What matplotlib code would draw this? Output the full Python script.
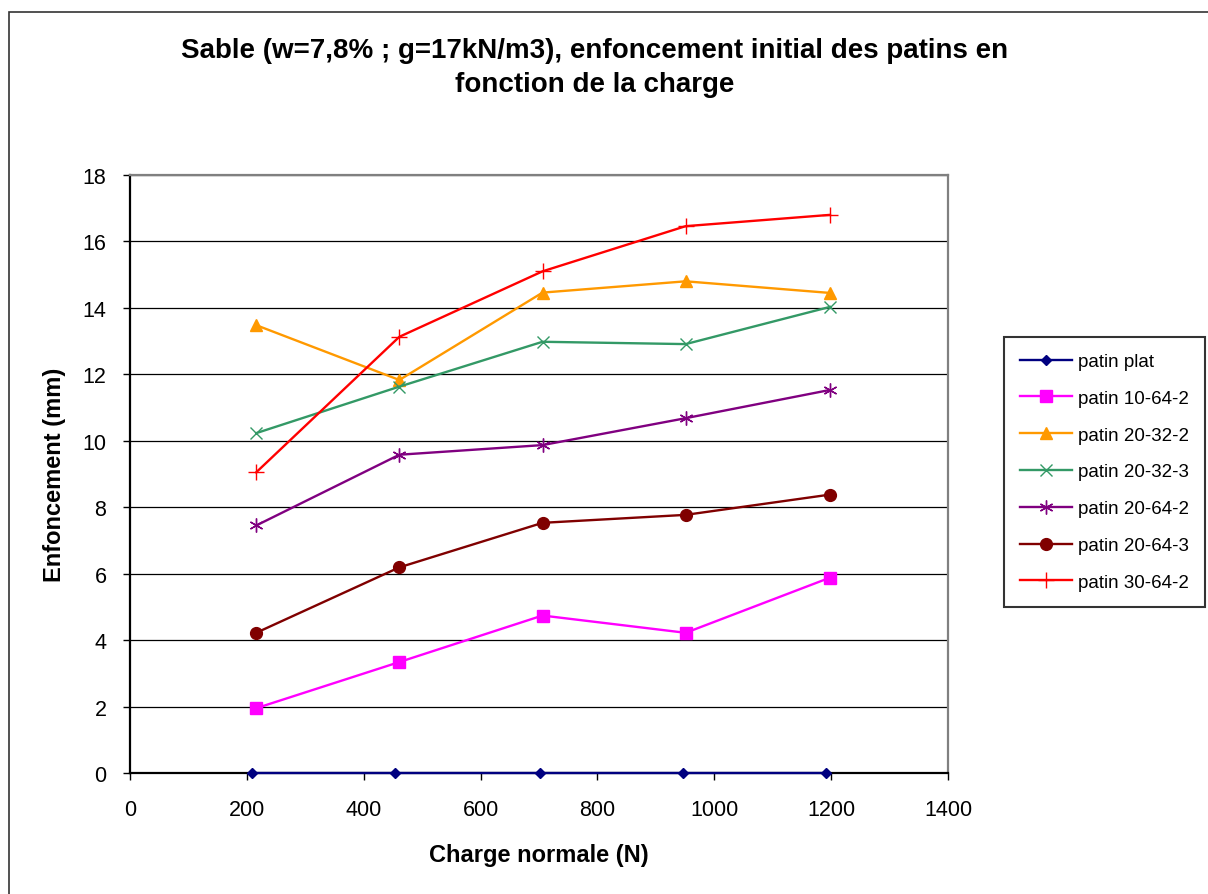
import matplotlib
matplotlib.use("Agg")
import matplotlib.pyplot as plt
from matplotlib.patches import Rectangle

plt.rcParams['font.family'] = ['Liberation Sans', 'DejaVu Sans']

title = "Sable (w=7,8% ; g=17kN/m3), enfoncement initial des patins en\nfonction de la charge"
xlabel = "Charge normale (N)"
ylabel = "Enfoncement (mm)"

x_plat = [208, 453, 701, 946, 1191]
x_load = [216, 461, 706, 951, 1198]

labels = ["patin plat", "patin 10-64-2", "patin 20-32-2", "patin 20-32-3",
          "patin 20-64-2", "patin 20-64-3", "patin 30-64-2"]
y_plat = [0, 0, 0, 0, 0]
y_10_64_2 = [1.95, 3.34, 4.74, 4.22, 5.88]
y_20_32_2 = [13.48, 11.83, 14.46, 14.80, 14.45]
y_20_32_3 = [10.23, 11.63, 12.98, 12.91, 14.03]
y_20_64_2 = [7.45, 9.58, 9.87, 10.68, 11.53]
y_20_64_3 = [4.22, 6.19, 7.53, 7.77, 8.38]
y_30_64_2 = [9.05, 13.13, 15.10, 16.46, 16.80]

xticks = [0, 200, 400, 600, 800, 1000, 1200, 1400]
yticks = [0, 2, 4, 6, 8, 10, 12, 14, 16, 18]

W, H = 1208, 895
fig = plt.figure(figsize=(W / 100, H / 100), dpi=100)
fig.patch.set_facecolor('white')

# outer chart frame
fig.patches.append(Rectangle((9 / W, -0.1), 1.2, (H - 13) / H + 0.1,
                             transform=fig.transFigure, fill=False,
                             edgecolor='#333333', linewidth=1.2))

ax = fig.add_axes([130 / W, (H - 774) / H, (948 - 130) / W, (774 - 176) / H])

series = [
    (x_plat, y_plat, '#000080', 'D', 5),
    (x_load, y_10_64_2, '#FF00FF', 's', 8.5),
    (x_load, y_20_32_2, '#FF9900', '^', 8.5),
    (x_load, y_20_32_3, '#339966', 'x', 8),
    (x_load, y_20_64_2, '#800080', (6, 2, 0), 10),
    (x_load, y_20_64_3, '#800000', 'o', 8.5),
    (x_load, y_30_64_2, '#FF0000', '+', 11),
]
for (xs, ys, c, m, ms), lab in zip(series, labels):
    ax.plot(xs, ys, color=c, marker=m, markersize=ms, linewidth=1.7,
            markeredgewidth=1.0, label=lab, clip_on=False, zorder=3)

ax.set_xlim(0, 1400)
ax.set_ylim(0, 18)
ax.set_xticks(xticks)
ax.set_yticks(yticks)
ax.tick_params(axis='both', labelsize=15.5, direction='out', length=5, width=1, colors='black')
ax.tick_params(axis='y', pad=12)
ax.tick_params(axis='x', pad=14)
ax.yaxis.grid(True, color='black', linewidth=0.9)
ax.set_axisbelow(True)
for s in ['left', 'bottom']:
    ax.spines[s].set_color('black')
    ax.spines[s].set_linewidth(1.6)
for s in ['top', 'right']:
    ax.spines[s].set_color('#808080')
    ax.spines[s].set_linewidth(1.6)

ax.set_xlabel(xlabel, fontsize=17, fontweight='bold', labelpad=16)
ax.set_ylabel(ylabel, fontsize=17, fontweight='bold', labelpad=12)

fig.text(595 / W, 1 - 68 / H, title, ha='center', va='center', fontsize=20,
         fontweight='bold', linespacing=1.35)

leg = fig.legend(loc='upper left', bbox_to_anchor=(1004 / W, 1 - 338 / H),
                 bbox_transform=fig.transFigure, fontsize=13.5, frameon=True,
                 fancybox=False, edgecolor='black', handlelength=2.8,
                 handletextpad=0.3, labelspacing=1.05, borderpad=0.85,
                 borderaxespad=0)
leg.get_frame().set_linewidth(1.5)

fig.savefig('out.png', dpi=100)
